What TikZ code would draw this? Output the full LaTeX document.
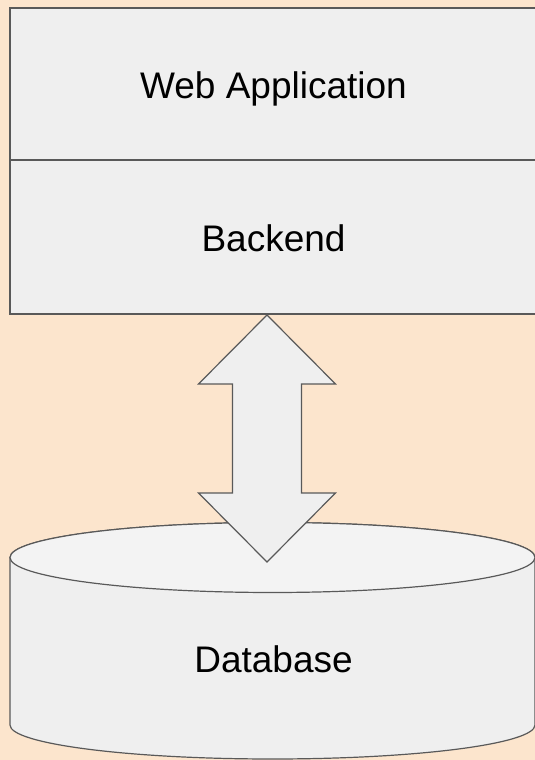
\documentclass[tikz,border=0pt]{standalone}
\usepackage{fontspec}
\setmainfont{Liberation Sans}
\usepackage{tikz}

\definecolor{peach}{HTML}{FCE5CD}
\definecolor{boxfill}{HTML}{EFEFEF}
\definecolor{lidfill}{HTML}{F3F3F3}
\definecolor{edge}{HTML}{595959}

\begin{document}
\begin{tikzpicture}[x=1pt, y=1pt,
    layer/.style={draw=edge, fill=boxfill, line width=1.2pt, inner sep=0pt,
      minimum width=527pt, font=\fontsize{37}{44}\selectfont,
      text height=29.6pt, text depth=0pt},
    label/.style={inner sep=0pt, font=\fontsize{37}{44}\selectfont,
      text height=29.6pt, text depth=0pt},
    fatarrow/.style={draw=edge, fill=boxfill, line width=1.2pt, line join=miter}]
  \clip (0,0) rectangle (535,760);
  \fill[peach] (0,0) rectangle (535,760);
  % stacked layers
  \node[layer, minimum height=152pt] (web) at (273.5,676) {Web Application};
  \node[layer, minimum height=154pt] (backend) at (273.5,523) {Backend};
  % database
  \draw[draw=edge, fill=boxfill, line width=1.2pt] (10,202.5) -- (10,35)
    arc[start angle=180, end angle=360, x radius=262.5, y radius=34]
    -- (535,202.5)
    arc[start angle=0, end angle=180, x radius=262.5, y radius=35] -- cycle;
  \draw[draw=edge, fill=lidfill, line width=1.2pt] (272.5,202.5)
    ellipse[x radius=262.5, y radius=35];
  \node[label] (db) at (273.5,102) {Database};
  % link
  \coordinate (linkup) at (267,445);
  \coordinate (linkdown) at (267,198);
  \draw[fatarrow] (linkup) -- ++(-68.5,-69) -- ++(34,0) -- ++(0,-109)
    -- ++(-34,0) -- (linkdown) -- ++(68.5,69) -- ++(-34,0) -- ++(0,109)
    -- ++(34,0) -- cycle;
\end{tikzpicture}
\end{document}
